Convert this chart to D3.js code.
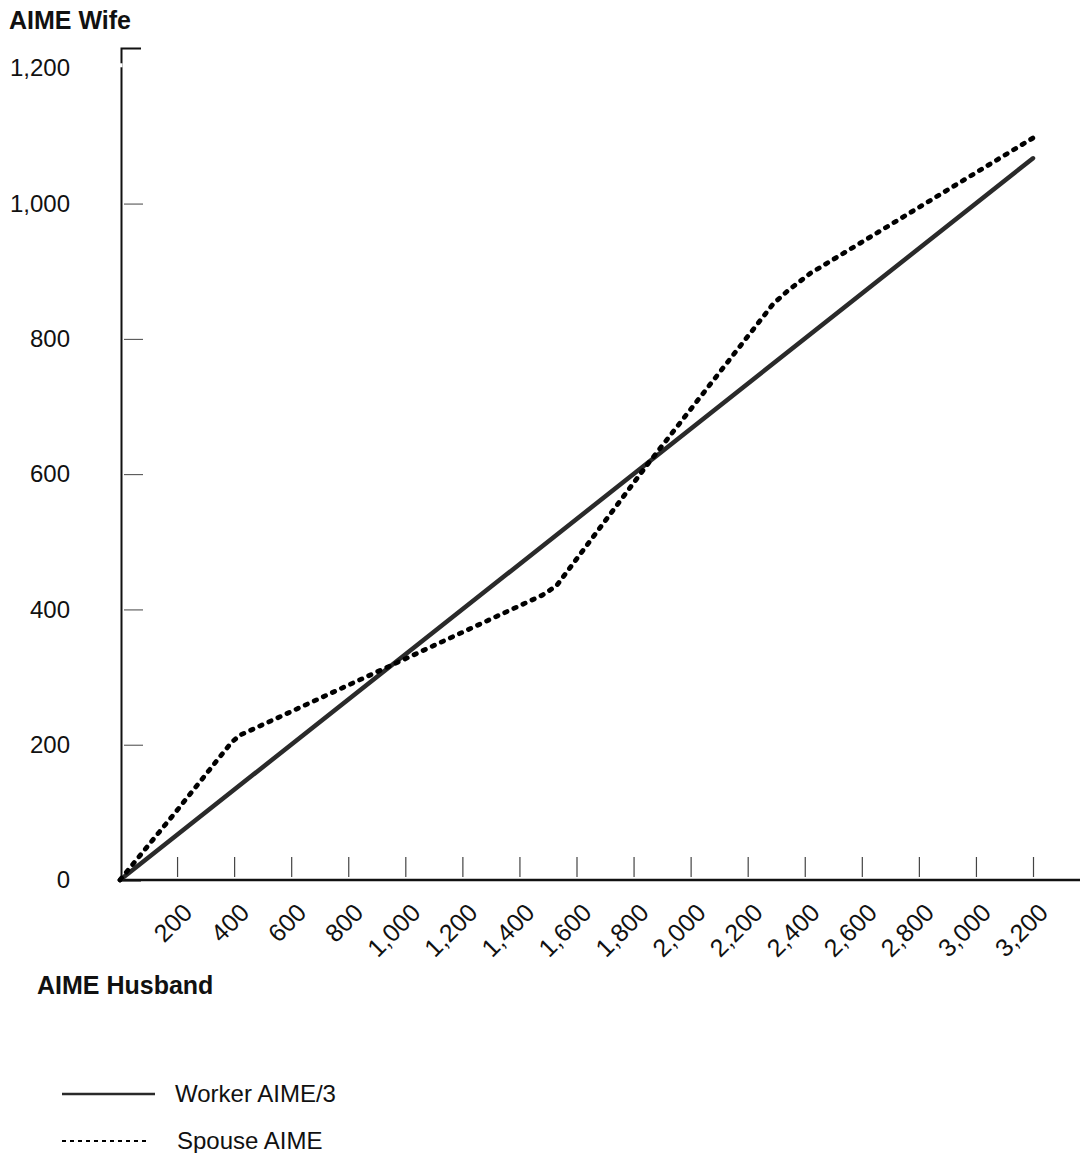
<!DOCTYPE html>
<html>
<head>
<meta charset="utf-8">
<script src="https://cdn.jsdelivr.net/npm/d3@7"></script>
<style>
  body { margin: 0; background: #fff; }
  svg text { font-family: "Liberation Sans", Arial, sans-serif; fill: #111; }
</style>
</head>
<body>
<div id="chart"></div>
<script>
// --- data ---
const xTicks = [200, 400, 600, 800, 1000, 1200, 1400, 1600, 1800, 2000, 2200, 2400, 2600, 2800, 3000, 3200];
const yTicks = [0, 200, 400, 600, 800, 1000, 1200];
const workerHusband = [0, 3200];
const workerWife = [0, 1067];
const spouseHusband = [0, 200, 390, 420, 600, 1000, 1480, 1530, 1850, 2290, 2340, 2420, 2600, 2900, 3200];
const spouseWife = [0, 103, 203, 214, 249, 327, 421, 435, 615, 852, 871, 897, 943, 1020, 1097];
const seriesNames = ["Worker AIME/3", "Spouse AIME"];

const W = 1082, H = 1153;
const fmt = d3.format(",");

const svg = d3.select("#chart").append("svg")
  .attr("width", W).attr("height", H);

const x = d3.scaleLinear().domain([0, 3200]).range([120, 1033]);
const y = d3.scaleLinear().domain([0, 1230]).range([880, 48]);

// x axis: ticks point up, labels rotated
const xAxis = svg.append("g")
  .attr("transform", "translate(0,880)")
  .call(d3.axisBottom(x).tickValues(xTicks).tickFormat(fmt)
    .tickSizeInner(-23).tickSizeOuter(0));
xAxis.select(".domain").remove();
xAxis.selectAll(".tick line")
  .attr("y1", -3).attr("stroke", "#444").attr("stroke-width", 1.2);
xAxis.selectAll(".tick text")
  .attr("text-anchor", "end")
  .attr("dy", "0.35em")
  .attr("y", 0)
  .attr("transform", "translate(10,28) rotate(-45)")
  .style("font-size", "25px");

svg.append("line")
  .attr("x1", 120).attr("x2", 1080)
  .attr("y1", 880).attr("y2", 880)
  .attr("stroke", "#111").attr("stroke-width", 2.5);

// y axis: ticks point right, labels to the far left
const yAxis = svg.append("g")
  .attr("transform", "translate(121,0)")
  .call(d3.axisLeft(y).tickValues(yTicks).tickFormat(fmt)
    .tickSizeInner(-20).tickSizeOuter(-20).tickPadding(51));
yAxis.select(".domain").attr("stroke", "#111").attr("stroke-width", 2);
yAxis.selectAll(".tick line").attr("x1", 3).attr("x2", 22).attr("stroke", "#444");
yAxis.selectAll(".tick").filter(d => d === 1200 || d === 0).select("line").remove();
yAxis.selectAll(".tick text").style("font-size", "24px");
// small break in the axis line near the top label
yAxis.append("line")
  .attr("x1", 0).attr("x2", 0)
  .attr("y1", y(1200) - 5).attr("y2", y(1200) - 1)
  .attr("stroke", "#fff").attr("stroke-width", 3);

// --- lines ---
const line = d3.line().x(d => x(d[0])).y(d => y(d[1]));

svg.append("path")
  .datum(d3.zip(workerHusband, workerWife))
  .attr("d", line)
  .attr("fill", "none")
  .attr("stroke", "#2a2a2a")
  .attr("stroke-width", 4.5)
  .attr("stroke-linecap", "round");

svg.append("path")
  .datum(d3.zip(spouseHusband, spouseWife))
  .attr("d", line)
  .attr("fill", "none")
  .attr("stroke", "#000")
  .attr("stroke-width", 4.8)
  .attr("stroke-dasharray", "2.5,7.5")
  .attr("stroke-linecap", "round")
  .attr("stroke-linejoin", "round");

// --- titles ---
svg.append("text")
  .attr("x", 9).attr("y", 29)
  .style("font-size", "25px").style("font-weight", "bold")
  .text("AIME Wife");

svg.append("text")
  .attr("x", 37).attr("y", 994)
  .style("font-size", "25px").style("font-weight", "bold")
  .text("AIME Husband");

// --- legend ---
const legend = svg.append("g");
const legendY = [1094, 1141];
const legendTextX = [175, 177];

legend.append("line")
  .attr("x1", 62).attr("x2", 155)
  .attr("y1", legendY[0]).attr("y2", legendY[0])
  .attr("stroke", "#2a2a2a").attr("stroke-width", 2.5);

legend.append("line")
  .attr("x1", 62).attr("x2", 150)
  .attr("y1", legendY[1]).attr("y2", legendY[1])
  .attr("stroke", "#000").attr("stroke-width", 2)
  .attr("stroke-dasharray", "4,4");

seriesNames.forEach((name, i) => {
  legend.append("text")
    .attr("x", legendTextX[i]).attr("y", legendY[i])
    .attr("dy", "0.35em")
    .style("font-size", "24px")
    .text(name);
});
</script>
</body>
</html>
